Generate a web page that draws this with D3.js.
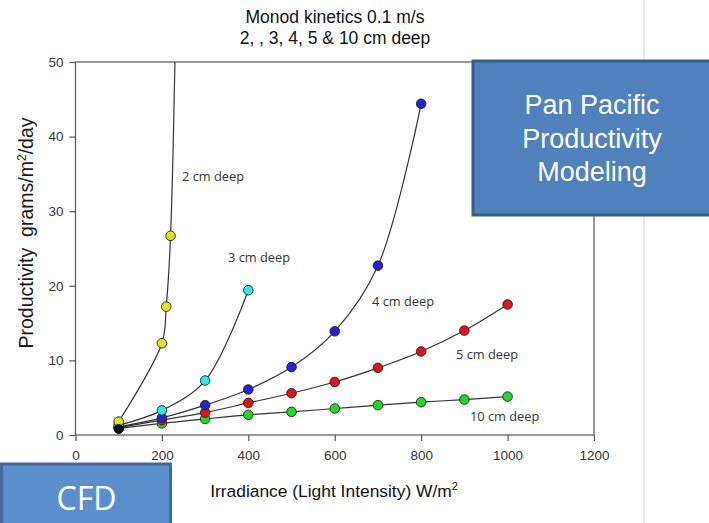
<!DOCTYPE html>
<html><head><meta charset="utf-8">
<script src="https://cdn.jsdelivr.net/npm/d3@7"></script>
<style>body{margin:0;background:#fff}svg{display:block}</style>
</head><body>
<script>
// ---- data ----
const xTicks = [0,200,400,600,800,1000,1200];
const yTicks = [0,10,20,30,40,50];
const irr2 = [100,200,210,220,235];
const prod2 = [1.8,12.3,17.2,26.7,66];
const irr3 = [100,200,300,400];
const prod3 = [1.3,3.3,7.3,19.4];
const irr4 = [100,200,300,400,500,600,700,800];
const prod4 = [1.1,2.3,4.0,6.1,9.1,13.9,22.7,44.4];
const irr5 = [100,200,300,400,500,600,700,800,900,1000];
const prod5 = [1.0,2.0,3.0,4.3,5.6,7.1,9.0,11.2,14.0,17.5];
const irr10 = [100,200,300,400,500,600,700,800,900,1000];
const prod10 = [0.9,1.55,2.15,2.7,3.1,3.55,4.0,4.4,4.75,5.15];
const irrBlack = [100];
const prodBlack = [0.8];
const seriesNames = ["2 cm deep","3 cm deep","4 cm deep","5 cm deep","10 cm deep"];
const seriesColors = ["#e2e21e","#2fe6ec","#2222d8","#e21414","#22d822"];

const W=709,H=523;
const svg=d3.select("body").append("svg").attr("width",W).attr("height",H);
const x=d3.scaleLinear().domain([0,1200]).range([75.5,594]);
const y=d3.scaleLinear().domain([0,50]).range([435,62]);

// slide border line
svg.append("line").attr("x1",644).attr("x2",644).attr("y1",0).attr("y2",H).attr("stroke","#d8d8d8").attr("stroke-width",1);

// titles
const tf="'Liberation Sans', Arial, sans-serif";
svg.append("text").attr("x",335).attr("y",23).attr("text-anchor","middle").attr("font-family",tf).attr("font-size",17.5).attr("fill","#111").text("Monod kinetics 0.1 m/s");
svg.append("text").attr("x",335).attr("y",44).attr("text-anchor","middle").attr("font-family",tf).attr("font-size",17.5).attr("fill","#111").text("2, , 3, 4, 5 & 10 cm deep");

// frame
const axCol="#555";
svg.append("rect").attr("x",x(0)).attr("y",y(50)).attr("width",x(1200)-x(0)).attr("height",y(0)-y(50)).attr("fill","none").attr("stroke",axCol).attr("stroke-width",1.2);

// axes
const xAxis=d3.axisBottom(x).tickValues(xTicks).tickSize(6).tickFormat(d3.format("d"));
const gx=svg.append("g").attr("transform",`translate(0,${y(0)})`).call(xAxis);
const yAxis=d3.axisLeft(y).tickValues(yTicks).tickSize(6);
const gy=svg.append("g").attr("transform",`translate(${x(0)},0)`).call(yAxis);
[gx,gy].forEach(g=>{g.select(".domain").remove();g.selectAll("line").attr("stroke",axCol).attr("stroke-width",1.2);
 g.selectAll("text").attr("font-family",tf).attr("font-size",13.5).attr("fill","#333");});
gx.selectAll("text").attr("y",25).attr("dy",0);
gy.selectAll("text").attr("x",-12);

// axis titles
svg.append("text").attr("transform","translate(33,233) rotate(-90)").attr("text-anchor","middle").attr("font-family",tf).attr("font-size",19.5).attr("fill","#1a1a1a")
 .html('Productivity&#160; grams/m<tspan dy="-7" font-size="12">2</tspan><tspan dy="7">/day</tspan>');
svg.append("text").attr("x",334).attr("y",497).attr("text-anchor","middle").attr("font-family",tf).attr("font-size",17.4).attr("fill","#111")
 .html('Irradiance (Light Intensity) W/m<tspan dy="-7" font-size="11">2</tspan>');

// clip
svg.append("clipPath").attr("id","pc").append("rect").attr("x",x(0)).attr("y",y(50)).attr("width",x(1200)-x(0)).attr("height",y(0)-y(50));
const plot=svg.append("g").attr("clip-path","url(#pc)");

const series=[[irr2,prod2],[irr3,prod3],[irr4,prod4],[irr5,prod5],[irr10,prod10]];
const line=d3.line().x(d=>x(d[0])).y(d=>y(d[1])).curve(d3.curveCatmullRom.alpha(0.5));
series.forEach(([xs,ys])=>{
  plot.append("path").datum(xs.map((v,i)=>[v,ys[i]])).attr("d",line).attr("fill","none").attr("stroke","#333").attr("stroke-width",1.2);
});
[4,3,2,1,0].forEach(k=>{
  const [xs,ys]=series[k];
  plot.selectAll(null).data(xs.map((v,i)=>[v,ys[i]])).enter().append("circle")
   .attr("cx",d=>x(d[0])).attr("cy",d=>y(d[1])).attr("r",4.8)
   .attr("fill",seriesColors[k]).attr("stroke","#222").attr("stroke-width",0.9);
});
plot.selectAll(null).data(irrBlack.map((v,i)=>[v,prodBlack[i]])).enter().append("circle")
 .attr("cx",d=>x(d[0])).attr("cy",d=>y(d[1])).attr("r",4.5).attr("fill","#111").attr("stroke","#111");

// series labels
const lf="'Open Sans', 'Noto Sans', sans-serif";
const labelPos=[[182,181],[228,262],[372,306],[456,359],[470,421]];
seriesNames.forEach((n,i)=>{
  svg.append("text").attr("x",labelPos[i][0]).attr("y",labelPos[i][1]).attr("font-family",lf).attr("font-size",12.8).attr("fill","#333").text(n);
});

// Pan Pacific box
svg.append("rect").attr("x",473).attr("y",61).attr("width",250).attr("height",154).attr("fill","#4f81bd").attr("stroke","#385d8a").attr("stroke-width",3);
["Pan Pacific","Productivity","Modeling"].forEach((t,i)=>{
  svg.append("text").attr("x",592).attr("y",114+i*33.5).attr("text-anchor","middle").attr("font-family",tf).attr("font-size",27).attr("fill","#fff").text(t);
});
// CFD box
svg.append("rect").attr("x",1.5).attr("y",464).attr("width",169).attr("height",70).attr("fill","#5b8fcb").attr("stroke","#41699a").attr("stroke-width",3);
svg.append("text").attr("x",86.5).attr("y",510).attr("text-anchor","middle").attr("font-family","'Open Sans', sans-serif").attr("font-size",32).attr("fill","#fff").text("CFD");
</script>
</body></html>
